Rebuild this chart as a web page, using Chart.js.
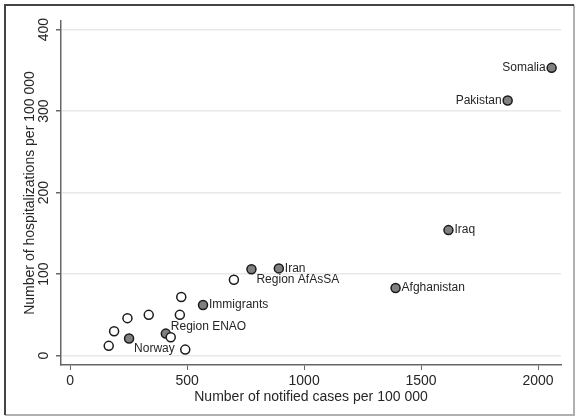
<!DOCTYPE html>
<html>
<head>
<meta charset="utf-8">
<script src="https://cdn.jsdelivr.net/npm/chart.js@4.4.0/dist/chart.umd.min.js"></script>
<style>
  html, body { margin: 0; padding: 0; background: #fff; }
  canvas { display: block; }
</style>
</head>
<body>
<canvas id="chart" width="576" height="416"></canvas>
<script>
// Labelled groups (grey markers)
const labelNames = ['Somalia', 'Pakistan', 'Iraq', 'Afghanistan', 'Iran', 'Region AfAsSA', 'Immigrants', 'Region ENAO', 'Norway'];
const labelCases = [2058, 1870, 1617, 1391, 892, 775, 568, 409, 252];
const labelHosp = [353, 313, 154, 83, 107, 106, 62, 27, 21];
// clock position of each marker label (Stata style)
const labelClock = [9, 9, 3, 3, 3, 4, 3, 2, 4];

// Other countries (hollow markers)
const otherCases = [700, 475, 336, 469, 245, 188, 430, 165, 492];
const otherHosp = [93, 72, 50, 50, 46, 30, 22.5, 12, 7.4];

const xTicks = [0, 500, 1000, 1500, 2000];
const yTicks = [0, 100, 200, 300, 400];

const FONT = "'Liberation Sans', Arial, sans-serif";
const TEXT = '#262626';

const toPoints = (xs, ys) => xs.map((x, i) => ({ x: x, y: ys[i] }));

// marker labels next to the grey points
const markerLabels = {
    id: 'markerLabels',
    afterDatasetsDraw(chart) {
        const ctx = chart.ctx;
        const meta = chart.getDatasetMeta(0);
        ctx.save();
        ctx.font = '12px ' + FONT;
        ctx.fillStyle = TEXT;
        ctx.textBaseline = 'middle';
        meta.data.forEach((pt, i) => {
            const pos = labelClock[i];
            let x = pt.x, y = pt.y;
            if (pos === 9) { ctx.textAlign = 'right'; x -= 6; }
            else if (pos === 3) { ctx.textAlign = 'left'; x += 6; }
            else if (pos === 4) { ctx.textAlign = 'left'; x += 5; y += 10; }
            else if (pos === 2) { ctx.textAlign = 'left'; x += 5; y -= 7; }
            ctx.fillText(labelNames[i], x, y);
        });
        ctx.restore();
    }
};

// rotated y tick labels and outer frame
const frameAndYLabels = {
    id: 'frameAndYLabels',
    afterDraw(chart) {
        const ctx = chart.ctx;
        const yScale = chart.scales.y;
        ctx.save();
        ctx.font = '14px ' + FONT;
        ctx.fillStyle = TEXT;
        ctx.textAlign = 'center';
        ctx.textBaseline = 'middle';
        yScale.ticks.forEach(t => {
            const py = yScale.getPixelForValue(t.value);
            ctx.save();
            ctx.translate(44, py);
            ctx.rotate(-Math.PI / 2);
            ctx.fillText(String(t.value), 0, 0);
            ctx.restore();
        });
        // frame around the graph
        ctx.lineWidth = 2;
        ctx.strokeStyle = '#b0b0b0';
        ctx.beginPath();
        ctx.moveTo(574, 5);
        ctx.lineTo(574, 415);
        ctx.lineTo(5, 415);
        ctx.stroke();
        ctx.strokeStyle = '#444';
        ctx.beginPath();
        ctx.moveTo(5, 415);
        ctx.lineTo(5, 5);
        ctx.lineTo(574, 5);
        ctx.stroke();
        ctx.restore();
    }
};

new Chart(document.getElementById('chart'), {
    type: 'scatter',
    data: {
        datasets: [
            {
                label: 'Groups',
                data: toPoints(labelCases, labelHosp),
                backgroundColor: '#808080',
                borderColor: '#1a1a1a',
                borderWidth: 1.5,
                pointRadius: 4.5,
                order: 1
            },
            {
                label: 'Countries',
                data: toPoints(otherCases, otherHosp),
                backgroundColor: '#fff',
                borderColor: '#1a1a1a',
                borderWidth: 1.5,
                pointRadius: 4.5,
                order: 0
            }
        ]
    },
    options: {
        responsive: false,
        animation: false,
        layout: { padding: { left: 0, top: 21, right: 15, bottom: 0 } },
        plugins: {
            legend: { display: false },
            tooltip: { enabled: false }
        },
        scales: {
            x: {
                type: 'linear',
                min: -39,
                max: 2098,
                afterBuildTicks: scale => { scale.ticks = xTicks.map(v => ({ value: v })); },
                afterFit: scale => { scale.height = 51; },
                grid: {
                    drawOnChartArea: false,
                    drawTicks: true,
                    tickLength: 5,
                    tickColor: '#666'
                },
                border: { color: '#666', width: 1.5 },
                ticks: {
                    font: { family: FONT, size: 14 },
                    color: TEXT,
                    padding: 3,
                    maxRotation: 0,
                    autoSkip: false,
                    callback: v => String(v)
                },
                title: {
                    display: true,
                    text: 'Number of notified cases per 100 000',
                    font: { family: FONT, size: 14 },
                    color: TEXT,
                    padding: { top: 0, bottom: 10 }
                }
            },
            y: {
                type: 'linear',
                min: -11.5,
                max: 410.5,
                afterBuildTicks: scale => { scale.ticks = yTicks.map(v => ({ value: v })); },
                afterFit: scale => { scale.width = 61; },
                grid: {
                    color: '#e8e8e8',
                    lineWidth: 1.5,
                    drawTicks: true,
                    tickLength: 5,
                    tickColor: '#666'
                },
                border: { color: '#666', width: 1.5 },
                ticks: { display: false },
                title: {
                    display: true,
                    text: 'Number of hospitalizations per 100 000',
                    font: { family: FONT, size: 14 },
                    color: TEXT,
                    padding: { top: 22, bottom: 0 }
                }
            }
        }
    },
    plugins: [markerLabels, frameAndYLabels]
});
</script>
</body>
</html>
